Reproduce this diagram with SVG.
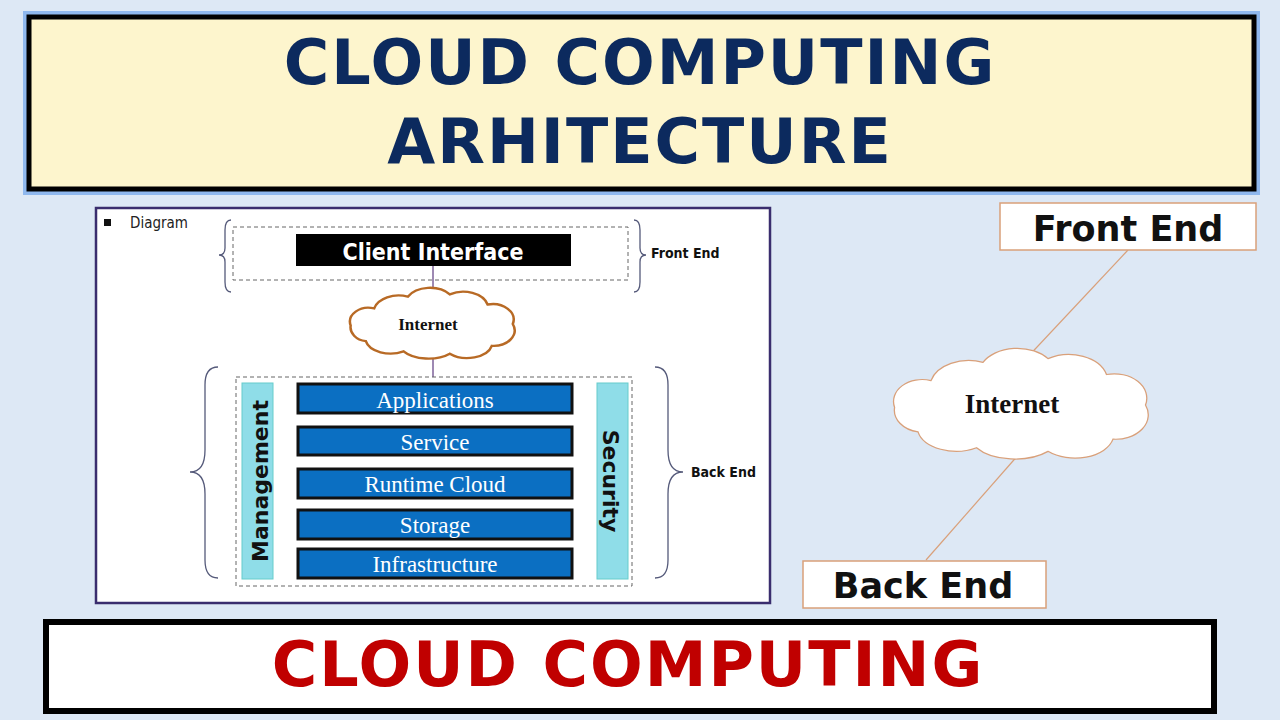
<svg xmlns="http://www.w3.org/2000/svg" width="1280" height="720" viewBox="0 0 1280 720">
<defs>
<style>
.bar{fill:#0b6fc2;stroke:#111;stroke-width:3}
.bt{font-family:"Liberation Serif",serif;font-size:23px;fill:#fff;text-anchor:middle}
.side{fill:#8fdde8;stroke:#6cc;stroke-width:1}
.brace{fill:none;stroke:#555a7a;stroke-width:1.3}
.lbl{font-family:"DejaVu Sans Condensed","Liberation Sans",sans-serif;font-weight:bold;font-size:14px;fill:#111}
.box{fill:#fff;stroke:#d9a07a;stroke-width:1.5}
.big{font-family:"DejaVu Sans","Liberation Sans",sans-serif;font-weight:bold;font-size:35px;fill:#111;text-anchor:middle}
.ttl{font-family:"DejaVu Sans","Liberation Sans",sans-serif;font-weight:bold;font-size:62px;text-anchor:middle;letter-spacing:2px}
</style>
<path id="cloud" d="M -70,-20 A 30,22 0 0 1 -30,-35 A 30,22 0 0 1 20,-38 A 30,22 0 0 1 65,-25 A 25,20 0 0 1 95,0 A 25,20 0 0 1 70,28 A 30,20 0 0 1 20,38 A 35,20 0 0 1 -35,35 A 30,20 0 0 1 -80,22 A 22,18 0 0 1 -98,2 A 22,18 0 0 1 -70,-20 Z"/>
</defs>
<rect width="1280" height="720" fill="#dde8f5"/>
<g id="title">
<rect x="26" y="14" width="1231" height="178" fill="none" stroke="#8fb8ee" stroke-width="6"/>
<rect x="29" y="17" width="1225" height="172" fill="#fdf5cd" stroke="#000" stroke-width="5"/>
<text class="ttl" x="640" y="84" fill="#0c2a5e">CLOUD COMPUTING</text>
<text class="ttl" x="640" y="163" fill="#0c2a5e">ARHITECTURE</text>
</g>
<g id="footer">
<rect x="46" y="622" width="1168" height="89" fill="#fff" stroke="#000" stroke-width="6"/>
<text class="ttl" x="628" y="686" fill="#c00000">CLOUD COMPUTING</text>
</g>
<g id="panel">
<rect x="96" y="208" width="674" height="395" fill="#fff" stroke="#3a2d6e" stroke-width="2.5"/>
<rect x="104" y="219" width="7" height="7" fill="#111"/>
<text x="130" y="228" font-family="'DejaVu Sans Condensed','Liberation Sans',sans-serif" font-size="15" fill="#222">Diagram</text>
</g>
<g id="connectors">
<line x1="433" y1="266" x2="433" y2="298" stroke="#6a4a8a" stroke-width="1.3"/>
<line x1="433" y1="355" x2="433" y2="377" stroke="#6a4a8a" stroke-width="1.3"/>
<line x1="1128" y1="250" x2="1023" y2="362" stroke="#d9a07a" stroke-width="1.2"/>
<line x1="1020" y1="453" x2="926" y2="560" stroke="#d9a07a" stroke-width="1.2"/>
</g>
<g id="frontend">
<rect x="233" y="227" width="395" height="53" fill="none" stroke="#666" stroke-dasharray="4,3"/>
<path class="brace" d="M231,220 Q225,220 225,230 L225,248 Q225,255 219,255 Q225,255 225,262 L225,282 Q225,292 231,292"/>
<path class="brace" d="M634,220 Q640,220 640,230 L640,248 Q640,255 646,255 Q640,255 640,262 L640,282 Q640,292 634,292"/>
<text class="lbl" x="651" y="258">Front End</text>
</g>
<g id="client-interface">
<rect x="296" y="234" width="275" height="32" fill="#000"/>
<text x="433" y="260" text-anchor="middle" font-family="'DejaVu Sans Condensed','Liberation Sans',sans-serif" font-weight="bold" font-size="23" fill="#fff">Client Interface</text>
</g>
<g id="internet-small">
<use href="#cloud" transform="translate(433,324) scale(0.84,0.78)" fill="#fff" stroke="#b86a25" stroke-width="3"/>
<text x="428" y="330" text-anchor="middle" font-family="'Liberation Serif',serif" font-weight="bold" font-size="17" fill="#111">Internet</text>
</g>
<g id="backend">
<rect x="236" y="377" width="396" height="209" fill="none" stroke="#666" stroke-dasharray="4,3"/>
<path class="brace" d="M218,367 Q205,367 205,385 L205,450 Q205,472 190,472 Q205,472 205,494 L205,560 Q205,578 218,578"/>
<path class="brace" d="M655,367 Q668,367 668,385 L668,450 Q668,472 683,472 Q668,472 668,494 L668,560 Q668,578 655,578"/>
<text class="lbl" x="691" y="477">Back End</text>
</g>
<g id="management">
<rect class="side" x="242" y="383" width="31" height="196"/>
<text transform="translate(268,481) rotate(-90)" text-anchor="middle" font-family="'DejaVu Sans','Liberation Sans',sans-serif" font-weight="bold" font-size="22" fill="#111">Management</text>
</g>
<g id="security">
<rect class="side" x="597" y="383" width="31" height="196"/>
<text transform="translate(603,481) rotate(90)" text-anchor="middle" font-family="'DejaVu Sans','Liberation Sans',sans-serif" font-weight="bold" font-size="22" fill="#111">Security</text>
</g>
<g id="applications"><rect class="bar" x="298" y="384" width="274" height="29"/><text class="bt" x="435" y="408">Applications</text></g>
<g id="service"><rect class="bar" x="298" y="427" width="274" height="28"/><text class="bt" x="435" y="450">Service</text></g>
<g id="runtime"><rect class="bar" x="298" y="469" width="274" height="29"/><text class="bt" x="435" y="492">Runtime Cloud</text></g>
<g id="storage"><rect class="bar" x="298" y="510" width="274" height="29"/><text class="bt" x="435" y="533">Storage</text></g>
<g id="infrastructure"><rect class="bar" x="298" y="549" width="274" height="29"/><text class="bt" x="435" y="572">Infrastructure</text></g>
<g id="front-end-box">
<rect class="box" x="1000" y="203" width="256" height="47"/>
<text class="big" x="1128" y="241">Front End</text>
</g>
<g id="internet-big">
<use href="#cloud" transform="translate(1022,405) scale(1.3,1.22)" fill="#fff" stroke="#d9a07a" stroke-width="1"/>
<text x="1012" y="413" text-anchor="middle" font-family="'Liberation Serif',serif" font-weight="bold" font-size="27" fill="#111">Internet</text>
</g>
<g id="back-end-box">
<rect class="box" x="803" y="561" width="243" height="47"/>
<text class="big" x="923" y="598">Back End</text>
</g>
</svg>
